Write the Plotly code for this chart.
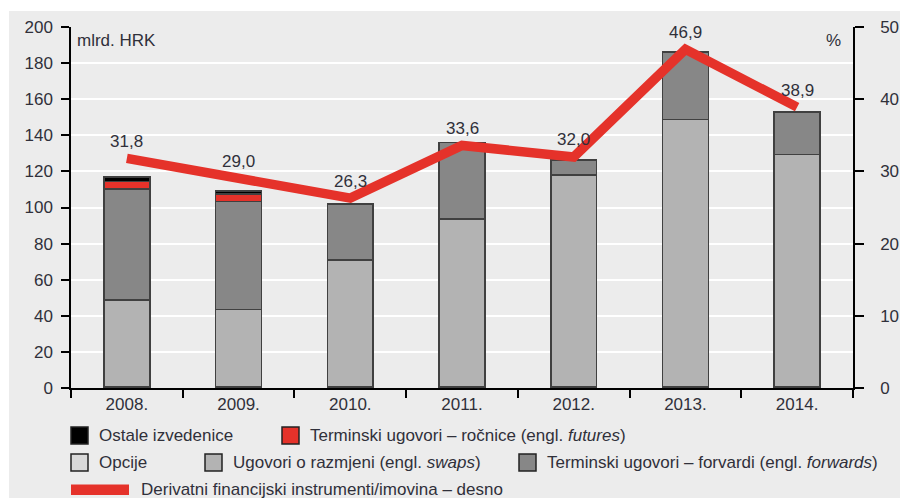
import plotly.graph_objects as go

years = ["2008.", "2009.", "2010.", "2011.", "2012.", "2013.", "2014."]
opcije = [0.4, 0.4, 0.4, 0.4, 0.4, 0.4, 0.4]
swaps = [48.5, 43.0, 70.5, 93.2, 117.6, 148.4, 129.0]
forwards = [61.5, 60.0, 31.0, 42.4, 8.3, 37.2, 23.6]
futures = [4.0, 4.0, 0.0, 0.0, 0.0, 0.0, 0.0]
ostale = [2.6, 1.8, 0.0, 0.0, 0.0, 0.0, 0.0]
share = [31.8, 29.0, 26.3, 33.6, 32.0, 46.9, 38.9]
share_labels = ["31,8", "29,0", "26,3", "33,6", "32,0", "46,9", "38,9"]
left_ticks = [0, 20, 40, 60, 80, 100, 120, 140, 160, 180, 200]
right_ticks = [0, 10, 20, 30, 40, 50]

W, H = 900, 498
L, R, T, B = 71, 853, 27, 388

FONT = "Liberation Sans, Arial, sans-serif"
FS = 17
TXT = "#30303a"
BG = "#ececec"
OUT = "#404040"

fig = go.Figure()
bar_series = [
    ("Opcije", opcije, "#d9d9d9"),
    ("Ugovori o razmjeni", swaps, "#b3b3b3"),
    ("Terminski ugovori – forvardi", forwards, "#878787"),
    ("Terminski ugovori – ročnice", futures, "#e5322a"),
    ("Ostale izvedenice", ostale, "#000000"),
]
for name, vals, col in bar_series:
    fig.add_trace(go.Bar(x=years, y=vals, name=name, width=0.41,
                         marker=dict(color=col, line=dict(color=OUT, width=1.6)),
                         hoverinfo="skip", showlegend=False))

fig.add_trace(go.Scatter(x=years, y=share, yaxis="y2", mode="lines",
                         line=dict(color="#e5322a", width=9.5),
                         showlegend=False, hoverinfo="skip"))

for i, (v, lab) in enumerate(zip(share, share_labels)):
    fig.add_annotation(x=i, y=v, xref="x", yref="y2", text=lab, showarrow=False,
                       yshift=17, font=dict(family=FONT, size=FS, color=TXT))

def px(x):
    return (x - L) / (R - L)

def py(y):
    return (B - y) / (B - T)

shapes = []
# white strips outside grey panel
shapes.append(dict(type="rect", xref="paper", yref="paper", x0=px(0), x1=px(W), y0=py(0), y1=py(11),
                   fillcolor="white", line=dict(width=0), layer="below"))
shapes.append(dict(type="rect", xref="paper", yref="paper", x0=px(0), x1=px(9), y0=py(0), y1=py(H),
                   fillcolor="white", line=dict(width=0), layer="below"))

annos = []
def legend_box(x0, yc, col, label):
    shapes.append(dict(type="rect", xref="paper", yref="paper", x0=px(x0), x1=px(x0 + 17),
                       y0=py(yc + 8.5), y1=py(yc - 8.5), fillcolor=col,
                       line=dict(color="#222222", width=1.5)))
    annos.append(dict(xref="paper", yref="paper", x=px(x0 + 26), y=py(yc), text=label,
                      xanchor="left", yanchor="middle", showarrow=False,
                      font=dict(family=FONT, size=FS, color=TXT)))

legend_box(71, 435.5, "#000000", "Ostale izvedenice")
legend_box(282, 435.5, "#e5322a", "Terminski ugovori – ročnice (engl. <i>futures</i>)")
legend_box(71, 462.5, "#d9d9d9", "Opcije")
legend_box(205, 462.5, "#b3b3b3", "Ugovori o razmjeni (engl. <i>swaps</i>)")
legend_box(519, 462.5, "#878787", "Terminski ugovori – forvardi (engl. <i>forwards</i>)")
shapes.append(dict(type="rect", xref="paper", yref="paper", x0=px(71), x1=px(129),
                   y0=py(495), y1=py(484.5), fillcolor="#e5322a", line=dict(width=0)))
annos.append(dict(xref="paper", yref="paper", x=px(139), y=py(489.5),
                  text="Derivatni financijski instrumenti/imovina – desno",
                  xanchor="left", yanchor="middle", showarrow=False,
                  font=dict(family=FONT, size=FS, color=TXT)))

annos.append(dict(xref="paper", yref="paper", x=px(75), y=py(40), text="mlrd. HRK",
                  xanchor="left", yanchor="middle", showarrow=False,
                  font=dict(family=FONT, size=FS, color=TXT)))
annos.append(dict(xref="paper", yref="paper", x=px(843), y=py(40), text="%",
                  xanchor="right", yanchor="middle", showarrow=False,
                  font=dict(family=FONT, size=FS, color=TXT)))

for a in annos:
    fig.add_annotation(**a)

fig.update_layout(
    width=W, height=H, autosize=False,
    margin=dict(l=L, r=W - R, t=T, b=H - B, pad=0, autoexpand=False),
    paper_bgcolor=BG, plot_bgcolor=BG,
    barmode="stack", bargap=0.59,
    font=dict(family=FONT, size=FS, color=TXT),
    shapes=shapes,
    xaxis=dict(type="category", range=[-0.5, len(years) - 0.5], showline=True,
               automargin=False,
               linecolor="black", linewidth=1.5, ticks="outside",
               tickson="boundaries", ticklen=8, tickcolor="black", tickwidth=1.5,
               showgrid=False, tickfont=dict(family=FONT, size=FS, color=TXT)),
    yaxis=dict(range=[0, 200], tickvals=left_ticks, showline=True, linecolor="black",
               automargin=False,
               linewidth=1.5, ticks="outside", ticklen=8, tickcolor="black", tickwidth=1.5,
               showgrid=True, gridcolor="white", gridwidth=2, zeroline=False,
               ticklabelstandoff=5, tickfont=dict(family=FONT, size=FS, color=TXT)),
    yaxis2=dict(range=[0, 50], tickvals=right_ticks, overlaying="y", side="right",
                automargin=False,
                showline=True, linecolor="black", linewidth=1.5, ticks="outside",
                ticklen=9, tickcolor="black", tickwidth=1.5, showgrid=False,
                zeroline=False, ticklabelstandoff=13,
                tickfont=dict(family=FONT, size=FS, color=TXT)),
)

fig.write_html("out.html", config={"displayModeBar": False},
               post_script="document.body.style.margin='0';document.body.style.padding='0';")
